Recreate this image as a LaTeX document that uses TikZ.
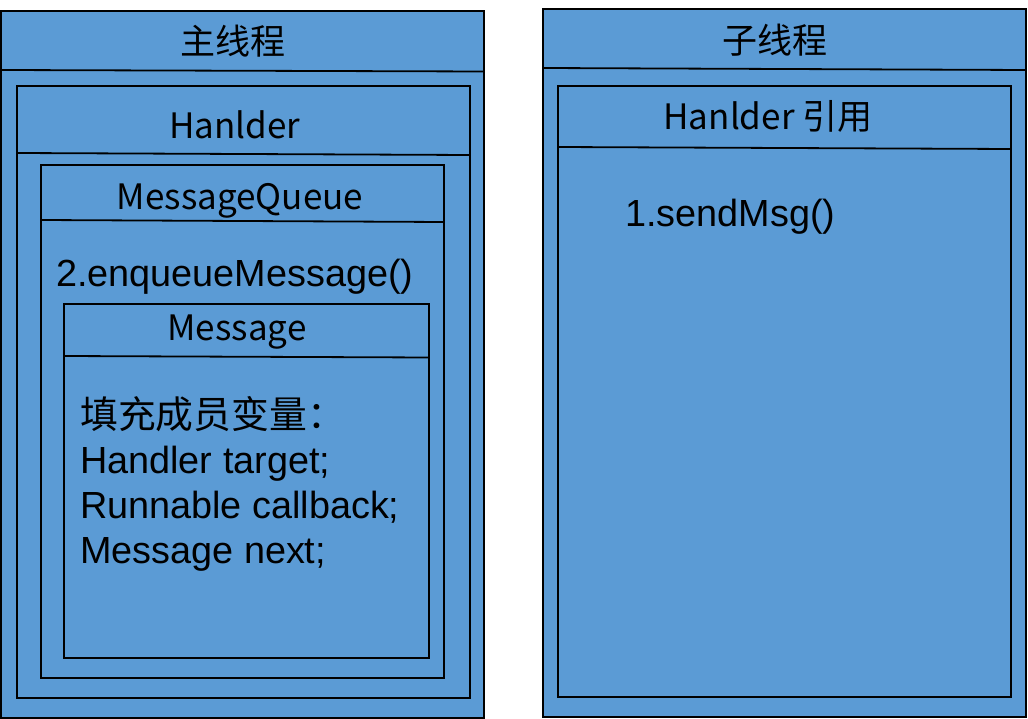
\documentclass[tikz,border=0pt]{standalone}
\usepackage{fontspec}
\setmainfont{Liberation Sans}
\newfontfamily\cjk{Noto Sans CJK SC}
\definecolor{boxblue}{HTML}{5B9BD5}
\tikzset{
  box/.style={draw, line width=2pt, fill=boxblue, inner sep=0pt, outer sep=0pt, anchor=north west},
  divider/.style={line width=1.8pt},
  title/.style={font=\cjk\fontsize{35}{42}\selectfont, inner sep=0pt},
  code/.style={font=\fontsize{37.8}{45}\selectfont, inner sep=0pt, anchor=base west}
}
\begin{document}
\begin{tikzpicture}[x=1pt, y=-1pt]
\useasboundingbox (0,0) rectangle (1028,719);
% main thread
\node[box, minimum width=483pt, minimum height=707pt] (main) at (1,11){};
\draw[divider] ([yshift=-59pt]main.north west) -- ([yshift=-60.5pt]main.north east);
\node[title] (mainlbl) at (233,41){主线程};
\node[box, minimum width=453pt, minimum height=612pt] (handler) at (17,86){};
\draw[divider] ([yshift=-67pt]handler.north west) -- ([yshift=-69pt]handler.north east);
\node[title, anchor=base] (handlerlbl) at (235,139){Hanlder};
\node[box, minimum width=403pt, minimum height=513pt] (queue) at (41,165){};
\draw[divider] ([yshift=-55pt]queue.north west) -- ([yshift=-57pt]queue.north east);
\node[title, anchor=base] (queuelbl) at (240,210){MessageQueue};
\node[code] (enqueue) at (56,287){2.enqueueMessage()};
\node[box, minimum width=365pt, minimum height=354pt] (msg) at (64,304){};
\draw[divider] ([yshift=-52pt]msg.north west) -- ([yshift=-53.5pt]msg.north east);
\node[title, anchor=base] (msglbl) at (237,340){Message};
\node[code] (field0) at (80,428){\cjk 填充成员变量：};
\node[code] (field1) at (80,473){Handler target;};
\node[code] (field2) at (80,518){Runnable callback;};
\node[code] (field3) at (80,563){Message next;};
% worker thread
\node[box, minimum width=483pt, minimum height=708pt] (worker) at (543,9){};
\draw[divider] ([yshift=-59pt]worker.north west) -- ([yshift=-61pt]worker.north east);
\node[title] (workerlbl) at (775,40){子线程};
\node[box, minimum width=453pt, minimum height=611pt] (handlerref) at (558,86){};
\draw[divider] ([yshift=-61pt]handlerref.north west) -- ([yshift=-63pt]handlerref.north east);
\node[title, anchor=base] (handlerreflbl) at (768,130){Hanlder 引用};
\node[code] (send) at (625,227){1.sendMsg()};
\end{tikzpicture}
\end{document}
